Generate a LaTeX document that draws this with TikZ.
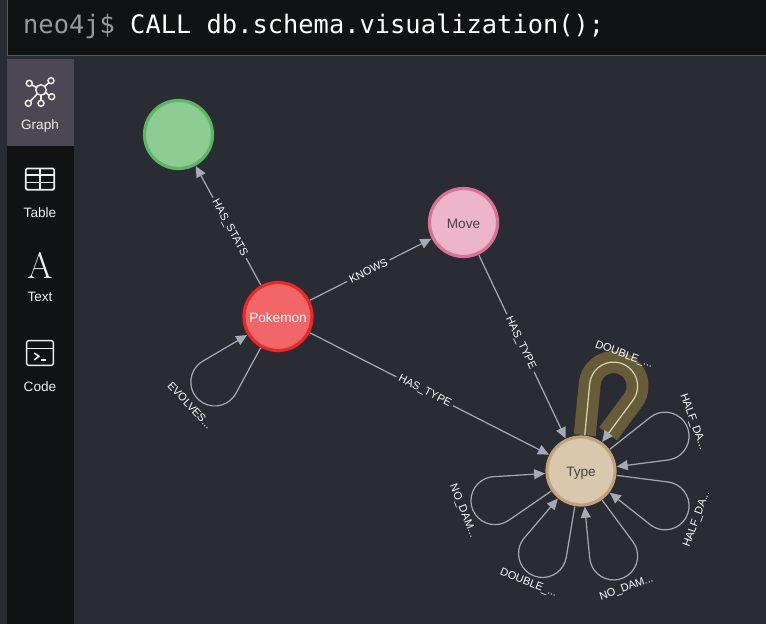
\documentclass[tikz,border=0pt]{standalone}
\usepackage{fontspec}
\setmainfont{Liberation Sans}
\newfontfamily\promptfont{DejaVu Sans Mono}
\newfontfamily\iconserif{Latin Modern Roman}
\usetikzlibrary{arrows.meta,calc}
\definecolor{bgc}{HTML}{292C33}
\definecolor{panel}{HTML}{111213}
\definecolor{active}{HTML}{4B4853}
\definecolor{edgec}{HTML}{A5ABB6}
\definecolor{hilite}{HTML}{665C3A}
\definecolor{hiline}{HTML}{DDD5B0}
\definecolor{icon}{HTML}{EEEEEE}
\pgfdeclarelayer{under}
\pgfsetlayers{under,main}
\tikzset{
  x=1pt,y=1pt,
  gnode/.style={circle,minimum size=68pt,inner sep=0pt,outer sep=2pt,line width=3.2pt,font=\fontsize{13.6}{14}\selectfont},
  edgeline/.style={draw=edgec,line width=1.2pt,-{Triangle[length=11pt,width=10pt,fill=edgec,color=edgec]}},
  edgelabel/.style={font=\fontsize{11}{11}\selectfont,text=white,fill=bgc,inner xsep=3pt,inner ysep=1pt,sloped,pos=.48},
  looplabel/.style={font=\fontsize{11}{11}\selectfont,text=white,inner sep=0pt},
  tablabel/.style={font=\fontsize{13.6}{14}\selectfont,text=icon,inner sep=0pt},
  iconline/.style={draw=icon,line width=1.5pt},
}
\newcommand{\looppath}[3]{%
  \pgfmathsetmacro{\la}{#2+15}\pgfmathsetmacro{\lb}{#2-15}%
  \pgfmathsetmacro{\lt}{#2+15.3}\pgfmathsetmacro{\ls}{#2+105.5}\pgfmathsetmacro{\le}{#2-105.5}%
  \draw[#3] (#1.\la) -- ($(#1)+(\lt:87.7)$) arc[start angle=\ls,end angle=\le,radius=24] -- (#1.\lb);%
}
\newcommand{\lowered}[1]{\raisebox{-5.7pt}[0pt][0pt]{#1}}
\begin{document}
\begin{tikzpicture}
\useasboundingbox (0,0) rectangle (766,-624);
\begin{pgfonlayer}{under}
\fill[bgc] (0,0) rectangle (766,-624);
\end{pgfonlayer}
% top bar
\fill[panel] (7,0) rectangle (766,-55);
\draw[draw=gray!55!bgc,line width=.8pt] (7,0) -- (7,-55.4) -- (766,-55.4);
\node[anchor=base west,inner sep=0pt,font=\promptfont\fontsize{25.4}{25.4}\selectfont,text=white] (prompt) at (23,-33) {\textcolor{gray!80!white}{neo4j\$} CALL db.schema.visualization();};
% sidebar
\fill[panel] (7,-59) rectangle (74,-624);
\fill[active] (7,-59) rectangle (74,-146);
% graph icon
\begin{scope}[iconline]
\draw (41,-90) circle[radius=5.3];
\draw (29.3,-83.3) circle[radius=3];
\draw (51,-80.7) circle[radius=3];
\draw (51.7,-96.7) circle[radius=3];
\draw (41,-103.3) circle[radius=3];
\draw (28.3,-103.3) circle[radius=3];
\draw (32,-85) -- (36.4,-87.4);
\draw (48.8,-82.7) -- (44.8,-86.3);
\draw (48.9,-95.6) -- (45.9,-92.2);
\draw (41,-100.3) -- (41,-95.3);
\draw (30.4,-101.2) -- (37.3,-93.8);
\end{scope}
\node[tablabel] (graphtab) at (40,-126.2) {Graph};
% table icon
\draw[iconline,line width=1.8pt,rounded corners=1.5pt] (25.7,-168.5) rectangle (54.3,-189.7);
\draw[iconline] (25.7,-175) -- (54.3,-175) (25.7,-182.3) -- (54.3,-182.3) (40,-168.5) -- (40,-189.7);
\node[tablabel] (tabletab) at (40,-213) {Table};
% text icon
\node[inner sep=0pt,text=icon,font=\iconserif\fontsize{37}{37}\selectfont] (aicon) at (40,-265) {A};
\node[tablabel] (texttab) at (40,-297) {Text};
% code icon
\draw[iconline,rounded corners=1.5pt] (26.7,-340.7) rectangle (53.3,-365.3);
\draw[iconline] (26.7,-348.5) -- (53.3,-348.5);
\draw[iconline] (34.3,-353) -- (39,-356.3) -- (34.3,-359.8);
\draw[iconline] (40.5,-360) -- (46,-360);
\node[tablabel] (codetab) at (40,-387) {Code};
% graph nodes
\node[gnode,fill={rgb,255:red,141;green,204;blue,147},draw={rgb,255:red,93;green,182;blue,101}] (Stats) at (178.5,-134.5) {};
\node[gnode,fill={rgb,255:red,236;green,181;blue,201},draw={rgb,255:red,218;green,114;blue,152},text={rgb,255:red,68;green,68;blue,68}] (Move) at (463.5,-222.5) {\lowered{Move}};
\node[gnode,fill={rgb,255:red,241;green,102;blue,103},draw={rgb,255:red,235;green,39;blue,40},text=white] (Pokemon) at (278,-316.5) {\lowered{Pokemon}};
\node[gnode,fill={rgb,255:red,217;green,200;blue,174},draw={rgb,255:red,192;green,163;blue,120},text={rgb,255:red,68;green,68;blue,68}] (Type) at (581,-471) {\lowered{Type}};
% connectors
\draw[edgeline] (Pokemon) -- node[edgelabel] {HAS\_STATS} (Stats);
\draw[edgeline] (Pokemon) -- node[edgelabel] {KNOWS} (Move);
\draw[edgeline] (Move) -- node[edgelabel] {HAS\_TYPE} (Type);
\draw[edgeline] (Pokemon) -- node[edgelabel] {HAS\_TYPE} (Type);
% self loops
\looppath{Pokemon}{226}{edgeline}
\node[looplabel,rotate=-47] (l1) at (190,-405.5) {EVOLVES...};
\begin{pgfonlayer}{under}
\looppath{Type}{69}{draw=hilite,line width=22pt,shorten >=10pt}
\end{pgfonlayer}
\looppath{Type}{69}{edgeline,draw=hiline}
\looppath{Type}{22.5}{edgeline}
\looppath{Type}{-22.5}{edgeline}
\looppath{Type}{-69}{edgeline}
\looppath{Type}{-115}{edgeline}
\looppath{Type}{-161}{edgeline}
\node[looplabel,rotate=-20] (l2) at (624,-355) {DOUBLE\_...};
\node[looplabel,rotate=-70] (l3) at (693,-422) {HALF\_DA...};
\node[looplabel,rotate=70] (l4) at (697,-519) {HALF\_DA...};
\node[looplabel,rotate=20] (l5) at (626.5,-588) {NO\_DAM...};
\node[looplabel,rotate=-22] (l6) at (528.5,-583) {DOUBLE\_...};
\node[looplabel,rotate=-68] (l7) at (463,-511) {NO\_DAM...};
\end{tikzpicture}
\end{document}
